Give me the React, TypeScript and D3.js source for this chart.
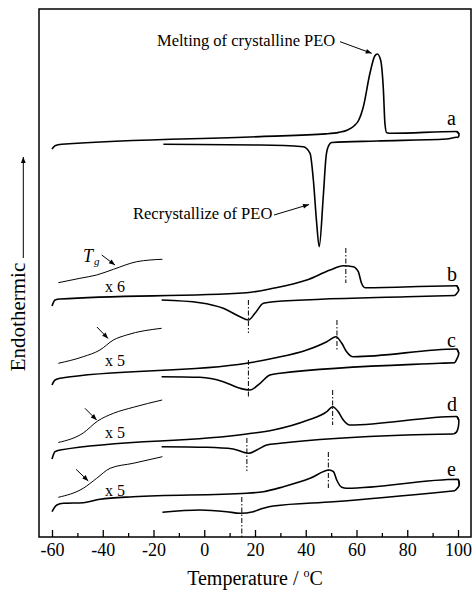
import React, { useEffect, useRef } from "react";
import * as d3 from "d3";

type Pt = [number, number];
type Mark = [number, number, number];

// temperature ticks (°C)
const majorTicks = [-60, -40, -20, 0, 20, 40, 60, 80, 100];
const minorTicks = [-50, -30, -10, 10, 30, 50, 70, 90];

// heat flow in arbitrary units, [T (°C), signal]
// a: pure PEO, heating run then cooling run
const aHeat: Pt[] = [
  [-60, 388], [-58.8, 391.3], [-56.2, 392.7], [22, 400.4], [48, 403.1], [53, 404.6],
  [56.5, 407], [59, 411], [60.8, 416.5], [62.7, 430.3], [65.3, 463.7], [67.2, 481],
  [68.2, 483], [69.5, 477], [70.6, 447], [71.2, 413.7], [71.9, 404.3], [73.9, 403.7],
  [99.5, 405.5], [100.4, 403], [100.1, 399.5],
];
const aCool: Pt[] = [
  [99.5, 399.7], [95.5, 398], [68, 396], [50.3, 394.5], [48.8, 390], [48, 380.3],
  [46.9, 340.3], [45.3, 290.3], [44.3, 314], [43, 357], [41.7, 383.7], [39, 390.3],
  [22, 392], [-16.1, 392.7],
];

const bHeat: Pt[] = [
  [-60, 231], [-58.8, 237], [-56.8, 238], [16.7, 244.3], [27.2, 248.7], [40.4, 257],
  [49.6, 267], [54.8, 271.3], [58.7, 270.3], [60.7, 265.3], [62, 253.7], [63.4, 249.3],
  [99.5, 251.3], [100.3, 247], [98.8, 241.5],
];
const bCool: Pt[] = [
  [79.8, 240.3], [27.2, 235.3], [23.3, 233.7], [20, 223.7], [17.4, 217], [14.1, 220.3],
  [7.5, 228.7], [-1.7, 234.3], [-16.8, 237],
];
const bInset: Pt[] = [
  [-57.5, 254.3], [-49, 258.7], [-42.4, 262], [-35.8, 267.7], [-26.6, 275.3], [-21.4, 277], [-16.5, 277.7],
];

const cHeat: Pt[] = [
  [-60, 152], [-58.8, 157], [-56.8, 158.7], [16.7, 173.7], [27.2, 178.7], [40.4, 187],
  [48.3, 195.3], [51.9, 200.3], [54.2, 193.7], [56.1, 185.3], [58.7, 180.3], [99.5, 188],
  [100.3, 183.7], [98.8, 174.3],
];
const cCool: Pt[] = [
  [92.9, 173.7], [29.9, 163.7], [25.9, 162], [22, 153.7], [18, 147], [14.1, 148.7],
  [7.5, 155.3], [-1.7, 159.7], [-16.8, 160.3],
];
const cInset: Pt[] = [
  [-57.5, 173.7], [-47.7, 180.3], [-41.1, 187], [-35.8, 197], [-30.6, 202], [-16.8, 208.7],
];

const dHeat: Pt[] = [
  [-60, 78], [-58.8, 85.3], [-56.8, 87], [16.7, 103], [27.2, 107], [40.4, 116.5],
  [48.3, 125.3], [50.6, 130.3], [52.8, 125.3], [54.8, 117], [57.4, 112], [99.5, 120.5],
  [100.3, 117], [99.5, 105.3], [98.2, 103],
];
const dCool: Pt[] = [
  [79.8, 102], [29.9, 93.7], [24.6, 92], [20.7, 87], [17.4, 83.7], [11.4, 88],
  [1, 89.7], [-16.8, 90.3],
];
const dInset: Pt[] = [
  [-57.5, 94.5], [-47.7, 104], [-42, 116], [-35.8, 123.7], [-28, 129.7], [-16.6, 137],
];

const eHeat: Pt[] = [
  [-60, 25.3], [-58.1, 32], [-55.5, 33.7], [-47.7, 34.3], [-41.1, 37.7], [-28, 40.3],
  [16.7, 43.7], [23.3, 45.3], [31.2, 50.3], [41.7, 58.7], [49.3, 67], [50.9, 65.3],
  [52.2, 57], [54.2, 49.7], [56.1, 48.7], [100.1, 57.7], [100.5, 52], [98.8, 46.3],
];
const eCool: Pt[] = [
  [50.9, 35.3], [27.2, 31], [23.3, 28.7], [19.3, 25.3], [14.1, 23.7], [8.8, 25.3],
  [-1.7, 27], [-16.5, 24.7],
];
const eInset: Pt[] = [
  [-57.5, 39.7], [-47.7, 48.7], [-42.4, 58.7], [-37.1, 68.7], [-28, 73.7], [-16.5, 80.3],
];

// peak temperature markers [T, top, bottom]
const bMarks: Mark[] = [[55.8, 289, 254], [17.4, 237, 204]];
const cMarks: Mark[] = [[52.3, 217, 187], [17.4, 177, 140]];
const dMarks: Mark[] = [[50.6, 147, 112], [16.8, 99, 66]];
const eMarks: Mark[] = [[48.9, 85, 49], [14.8, 40, 0]];

// Tg arrows [from, to]
const bTg: Pt[] = [[-40.4, 282], [-35.2, 272]];
const cTg: Pt[] = [[-42.3, 210], [-37.9, 198.5]];
const dTg: Pt[] = [[-47, 128.7], [-42.4, 117]];
const eTg: Pt[] = [[-50.5, 67.7], [-45.7, 56]];

const meltArrow: Pt[] = [[53.5, 495.3], [66, 483.7]];
const recrystArrow: Pt[] = [[27.5, 322], [41.3, 332.5]];

const curveNames = ["a", "b", "c", "d", "e"];
const magnification = ["x 6", "x 5", "x 5", "x 5"];

// split a heating/cooling run into x-monotone parts plus the turn-around hook at 100 °C
const splitRun = (heat: Pt[], cool: Pt[]) => {
  let i = 1;
  while (i < heat.length && heat[i][0] > heat[i - 1][0]) i++;
  const up = heat.slice(0, i);
  const hook = heat.slice(Math.max(0, i - 2));
  const down = [heat[heat.length - 1], ...cool].reverse();
  return [up, hook, down];
};

export default function App() {
  const ref = useRef<SVGSVGElement>(null);

  useEffect(() => {
    const svg = d3.select(ref.current);
    svg.selectAll("*").remove();

    const font = "'Liberation Serif', 'Times New Roman', serif";
    const x = d3.scaleLinear().domain([-60, 100]).range([52, 458]);
    const y = d3.scaleLinear().domain([0, 528]).range([537, 9]);

    svg.append("defs").append("marker")
      .attr("id", "ah")
      .attr("viewBox", "0 0 10 10")
      .attr("refX", 10)
      .attr("refY", 5)
      .attr("markerWidth", 7)
      .attr("markerHeight", 6)
      .attr("orient", "auto")
      .append("path")
      .attr("d", "M0,1 L10,5 L0,9 z")
      .attr("fill", "#000");

    const smooth = d3.line<Pt>()
      .x(d => x(d[0]))
      .y(d => y(d[1]))
      .curve(d3.curveMonotoneX);
    const turn = d3.line<Pt>()
      .x(d => x(d[0]))
      .y(d => y(d[1]))
      .curve(d3.curveCatmullRom.alpha(0.5));

    const samples = [
      { heat: bHeat, cool: bCool, inset: bInset, marks: bMarks, tg: bTg },
      { heat: cHeat, cool: cCool, inset: cInset, marks: cMarks, tg: cTg },
      { heat: dHeat, cool: dCool, inset: dInset, marks: dMarks, tg: dTg },
      { heat: eHeat, cool: eCool, inset: eInset, marks: eMarks, tg: eTg },
    ];

    // frame
    svg.append("rect")
      .attr("x", 39).attr("y", 9)
      .attr("width", 432).attr("height", 528)
      .attr("fill", "none")
      .attr("stroke", "#000")
      .attr("stroke-width", 1.5);

    // x axis, ticks pointing inward
    const axisG = svg.append("g").attr("transform", `translate(0, ${y(0)})`);
    axisG.call(d3.axisBottom(x).tickValues(majorTicks).tickSize(-7).tickFormat(d => `${d}`));
    axisG.call(g => g.select(".domain").remove());
    axisG.selectAll("line").attr("stroke-width", 1.3);
    axisG.selectAll("text")
      .attr("y", 19)
      .attr("dy", null)
      .attr("font-family", font)
      .attr("font-size", 18)
      .attr("fill", "#000");

    const minorG = svg.append("g").attr("transform", `translate(0, ${y(0)})`);
    minorG.call(d3.axisBottom(x).tickValues(minorTicks).tickSize(-4).tickFormat(() => ""));
    minorG.call(g => g.select(".domain").remove());
    minorG.selectAll("line").attr("stroke-width", 1.3);

    // main heating / cooling runs
    const runs = [
      splitRun(aHeat, aCool),
      ...samples.map(s => splitRun(s.heat, s.cool)),
    ];
    const runG = svg.append("g")
      .attr("fill", "none")
      .attr("stroke", "#000")
      .attr("stroke-width", 1.6)
      .attr("stroke-linejoin", "round");
    runs.forEach(([up, hook, down]) => {
      runG.append("path").attr("d", smooth(up));
      runG.append("path").attr("d", turn(hook));
      runG.append("path").attr("d", smooth(down));
    });

    // magnified Tg region
    svg.append("g").selectAll("path")
      .data(samples)
      .join("path")
      .attr("d", d => smooth(d.inset))
      .attr("fill", "none")
      .attr("stroke", "#000")
      .attr("stroke-width", 1);

    // peak markers
    svg.append("g").selectAll("line")
      .data(samples.flatMap(s => s.marks))
      .join("line")
      .attr("x1", d => x(d[0])).attr("x2", d => x(d[0]))
      .attr("y1", d => y(d[1])).attr("y2", d => y(d[2]))
      .attr("stroke", "#000")
      .attr("stroke-width", 1)
      .attr("stroke-dasharray", "5,2,1.5,2");

    // arrows
    const arrows = [meltArrow, recrystArrow, ...samples.map(s => s.tg)];
    svg.append("g").selectAll("line")
      .data(arrows)
      .join("line")
      .attr("x1", d => x(d[0][0])).attr("y1", d => y(d[0][1]))
      .attr("x2", d => x(d[1][0])).attr("y2", d => y(d[1][1]))
      .attr("stroke", "#000")
      .attr("stroke-width", 1)
      .attr("marker-end", "url(#ah)");

    const text = (tx: number, ty: number, s: string, size: number) =>
      svg.append("text")
        .attr("x", tx).attr("y", ty)
        .attr("font-family", font)
        .attr("font-size", size)
        .attr("fill", "#000")
        .text(s);

    text(157, 46, "Melting of crystalline PEO", 16.5);
    text(133, 219, "Recrystallize of PEO", 16.5);

    const labelBase = [125, 281, 347, 411, 476];
    curveNames.forEach((n, i) => text(447, labelBase[i], n, 20));

    const magBase = [291.5, 366, 438, 496];
    magnification.forEach((m, i) => text(105, magBase[i], m, 16));

    text(83, 262, "T", 18).attr("font-style", "italic");
    text(94, 265, "g", 11).attr("font-style", "italic");

    // y label with arrow
    svg.append("text")
      .attr("transform", "translate(25, 317) rotate(-90)")
      .attr("text-anchor", "middle")
      .attr("font-family", font)
      .attr("font-size", 21)
      .attr("fill", "#000")
      .text("Endothermic");
    svg.append("line")
      .attr("x1", 23.3).attr("y1", 258)
      .attr("x2", 23.3).attr("y2", 157)
      .attr("stroke", "#000")
      .attr("stroke-width", 1)
      .attr("marker-end", "url(#ah)");

    // x title
    const title = svg.append("text")
      .attr("x", 255).attr("y", 585)
      .attr("text-anchor", "middle")
      .attr("font-family", font)
      .attr("font-size", 20)
      .attr("fill", "#000");
    title.append("tspan").text("Temperature / ");
    title.append("tspan").attr("font-size", 12).attr("dy", -8).text("o");
    title.append("tspan").attr("dy", 8).text("C");
  }, []);

  return (
    <svg
      ref={ref}
      width={473}
      height={592}
      style={{ position: "absolute", left: 0, top: 0, background: "#fff" }}
    />
  );
}
